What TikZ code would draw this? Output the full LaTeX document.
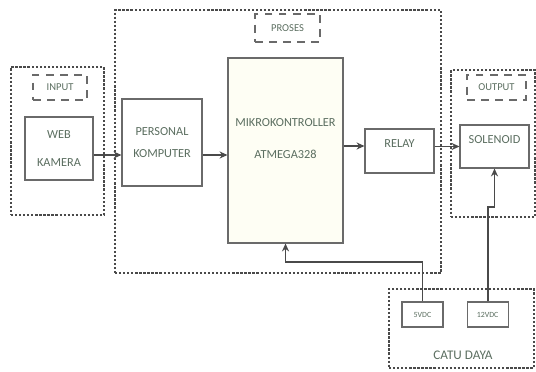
\documentclass[tikz,border=0pt]{standalone}
\usepackage{fontspec}
\setmainfont{Carlito}
\usepackage{tikz}
\usetikzlibrary{arrows.meta, positioning}
\definecolor{inkgray}{HTML}{4A4A4A}
\definecolor{boxgray}{HTML}{6A6A6A}
\definecolor{labelgreen}{HTML}{5B6E60}
\definecolor{mkfill}{HTML}{FEFEF4}
\tikzstyle{frame} = [rectangle, draw=inkgray, densely dotted, line width=1.3pt, inner sep=0pt]
\tikzstyle{tag} = [rectangle, draw=boxgray, dash pattern=on 4.5pt off 3.5pt, line width=0.9pt, text=labelgreen, font=\fontsize{6}{7}\selectfont]
\tikzstyle{block} = [rectangle, draw=boxgray, line width=0.6pt, fill=white, text=labelgreen, align=center, font=\fontsize{7}{13}\selectfont]
\tikzstyle{small} = [rectangle, draw=boxgray, line width=0.6pt, fill=white, text=labelgreen, minimum width=0.82cm, minimum height=0.5cm, font=\fontsize{4.5}{5}\selectfont]
\tikzstyle{arrow} = [line width=1.1pt, ->, >={Stealth[length=4.5pt,width=4pt]}, color=inkgray]

\begin{document}
\begin{tikzpicture}[x=0.02cm, y=-0.02cm, every node/.style={text=labelgreen}]
    \useasboundingbox (0,0) rectangle (536,371);
    \node[frame, minimum width=1.86cm, minimum height=2.96cm] (fin) at (57.5,141) {};
    \node[frame, minimum width=6.52cm, minimum height=5.26cm] (fproc) at (278,141.5) {};
    \node[frame, minimum width=1.68cm, minimum height=2.94cm] (fout) at (493,143.5) {};
    \node[frame, minimum width=2.9cm, minimum height=1.58cm] (fpow) at (461.5,328.5) {};

    \node[tag, minimum width=1.08cm, minimum height=0.5cm] (tin) at (60,87.5) {INPUT};
    \node[tag, minimum width=1.3cm, minimum height=0.56cm] (tproc) at (287.5,28) {PROSES};
    \node[tag, minimum width=1.18cm, minimum height=0.5cm] (tout) at (496.5,87.5) {OUTPUT};

    \node[block, minimum width=1.36cm, minimum height=1.26cm] (web) at (59,148.5) {WEB\\[3.4pt]KAMERA};
    \node[block, minimum width=1.6cm, minimum height=1.74cm] (pc) at (162,142.5) {PERSONAL\\KOMPUTER};
    \node[block, fill=mkfill, minimum width=2.3cm, minimum height=3.7cm,
        label={[text=labelgreen, align=center, font=\fontsize{7}{18.7}\selectfont, yshift=0.24cm]center:MIKROKONTROLLER\\ATMEGA328}] (mk) at (285.5,150.5) {};
    \node[block, minimum width=1.38cm, minimum height=0.88cm, text depth=8pt] (relay) at (399.5,151) {RELAY};
    \node[block, minimum width=1.38cm, minimum height=0.86cm, text depth=7.5pt] (sol) at (494.5,146.5) {SOLENOID};

    \node[small] (v5) at (422.5,314.5) {5VDC};
    \node[small, right=0.46cm of v5] (v12) {12VDC};
    \node[font=\fontsize{7.5}{9}\selectfont] (catu) at (463,355) {CATU DAYA};

    \coordinate (y1) at (0,155);
    \coordinate (y2) at (0,146);
    \coordinate (w5) at (0,262);
    \coordinate (w12) at (0,207);

    \draw[arrow] (web.east |- y1) -- (pc.west |- y1);
    \draw[arrow] (pc.east |- y1) -- (mk.west |- y1);
    \draw[arrow] (mk.east |- y2) -- (relay.west |- y2);
    \draw[arrow] (relay.east |- sol.west) -- (sol.west);
    \draw[arrow] (v5.north) -- (v5.north |- w5) -| (mk.south);
    \draw[arrow] (v12.north) -- (v12.north |- w12) -| (sol.south);
\end{tikzpicture}
\end{document}
